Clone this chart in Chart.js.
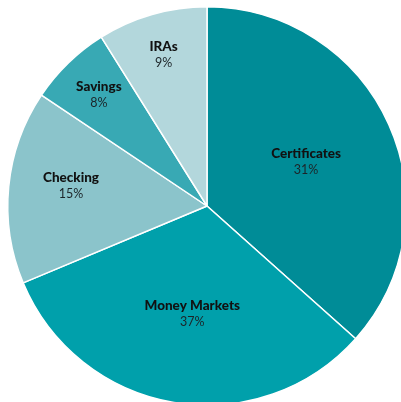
<!DOCTYPE html>
<html lang="en">
<head>
    <meta charset="UTF-8">
    <title>Deposit Mix</title>
    <script src="https://cdn.jsdelivr.net/npm/chart.js"></script>
    <style>
        html, body { margin: 0; padding: 0; background: #fff; overflow: hidden; }
        #wrap { position: absolute; left: 0; top: 0; width: 414px; height: 412px; }
    </style>
</head>
<body>
    <div id="wrap"><canvas id="pieChart"></canvas></div>

    <script>
        // categories, slice shares and the printed labels
        const categories = ['Certificates', 'Money Markets', 'Checking', 'Savings', 'IRAs'];
        const sliceShares = [36.6, 32.1, 15.7, 6.7, 8.9];
        const labelPercents = ['31%', '37%', '15%', '8%', '9%'];
        const sliceColors = ['#008c97', '#00a0ab', '#8bc4cb', '#38a9b4', '#b3d7dc'];

        // label placement: fraction of radius, and a small angle nudge in degrees
        const labelRadius = [0.545, 0.543, 0.69, 0.78, 0.79];
        const labelNudge = [0, -1.7, 2.9, 0, 0];

        const sliceLabels = {
            id: 'sliceLabels',
            afterDatasetsDraw(chart) {
                const ctx = chart.ctx;
                const meta = chart.getDatasetMeta(0);
                ctx.save();
                ctx.textAlign = 'center';
                ctx.textBaseline = 'alphabetic';
                meta.data.forEach((arc, i) => {
                    const mid = (arc.startAngle + arc.endAngle) / 2 + labelNudge[i] * Math.PI / 180;
                    const r = arc.outerRadius * labelRadius[i];
                    const x = arc.x + Math.cos(mid) * r;
                    const y = arc.y + Math.sin(mid) * r;
                    ctx.fillStyle = '#111';
                    ctx.font = '900 13.5px Lato';
                    ctx.fillText(categories[i], x, y - 3.5);
                    ctx.fillStyle = '#1c2428';
                    ctx.font = '12.5px Lato';
                    ctx.fillText(labelPercents[i], x, y + 12.5);
                });
                ctx.restore();
            }
        };

        new Chart(document.getElementById('pieChart'), {
            type: 'pie',
            data: {
                labels: categories,
                datasets: [{
                    data: sliceShares,
                    backgroundColor: sliceColors,
                    borderColor: '#fff',
                    borderWidth: 1.5
                }]
            },
            options: {
                responsive: true,
                maintainAspectRatio: false,
                animation: false,
                layout: { padding: 6 },
                plugins: {
                    legend: { display: false },
                    tooltip: { enabled: false }
                }
            },
            plugins: [sliceLabels]
        });
    </script>
</body>
</html>
